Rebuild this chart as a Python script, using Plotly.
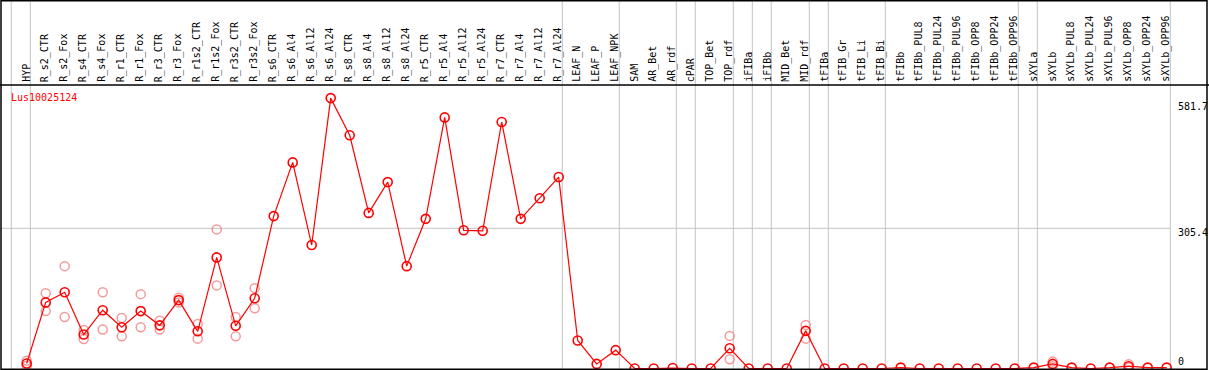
import plotly.graph_objects as go

categories = ["HYP", "R_s2_CTR", "R_s2_Fox", "R_s4_CTR", "R_s4_Fox", "R_r1_CTR", "R_r1_Fox",
              "R_r3_CTR", "R_r3_Fox", "R_r1s2_CTR", "R_r1s2_Fox", "R_r3s2_CTR", "R_r3s2_Fox",
              "R_s6_CTR", "R_s6_Al4", "R_s6_Al12", "R_s6_Al24", "R_s8_CTR", "R_s8_Al4", "R_s8_Al12",
              "R_s8_Al24", "R_r5_CTR", "R_r5_Al4", "R_r5_Al12", "R_r5_Al24", "R_r7_CTR", "R_r7_Al4",
              "R_r7_Al12", "R_r7_Al24", "LEAF_N", "LEAF_P", "LEAF_NPK", "SAM", "AR_Bet", "AR_rdf",
              "cPAR", "TOP_Bet", "TOP_rdf", "iFIBa", "iFIBb", "MID_Bet", "MID_rdf", "tFIBa",
              "tFIB_Gr", "tFIB_Li", "tFIB_Bi", "tFIBb", "tFIBb_PUL8", "tFIBb_PUL24", "tFIBb_PUL96",
              "tFIBb_OPP8", "tFIBb_OPP24", "tFIBb_OPP96", "sXYLa", "sXYLb", "sXYLb_PUL8",
              "sXYLb_PUL24", "sXYLb_PUL96", "sXYLb_OPP8", "sXYLb_OPP24", "sXYLb_OPP96"]

mean_values = [11, 144, 166, 74, 127, 90, 125, 94, 149, 81, 242, 93, 153,
               332, 449, 269, 589, 508, 339, 406, 223, 326, 547, 301, 300, 537, 326, 371, 417,
               61, 10, 40, 0, 0, 1, 0, 0, 44, 0, 0, 0, 82, 0, 0, 0, 0, 2,
               0, 0, 0, 0, 0, 0, 2, 10, 2, 0, 2, 5, 2, 2]

rep1_values = [17, 164, 223, 84, 166, 110, 162, 104, 154, 97, 303, 112, 175,
               None, None, None, None, None, None, None, None, None, None, None, None, None, None, None, None,
               None, None, None, None, None, None, None, None, 71, None, None, None, 95, None, None, None, None, None,
               None, None, None, None, None, None, None, 15, None, None, None, 9, None, None]
rep2_values = [6, 125, 112, 64, 85, 70, 90, 85, 144, 65, 181, 70, 131,
               None, None, None, None, None, None, None, None, None, None, None, None, None, None, None, None,
               None, None, None, None, None, None, None, None, 20, None, None, None, 65, None, None, None, None, None,
               None, None, None, None, None, None, None, 5, None, None, None, 2, None, None]

separator_after = [-1, 0, 28, 31, 34, 35, 37, 38, 39, 41, 42, 45, 52, 53, 60]
tick_values = [0, 305.4, 581.7]
tick_labels = ["0", "305.4", "581.7"]
title_text = "Lus10025124"

W, H = 1209, 370
PX_PER_CAT = 19.0
X0_PX = 26.7
ZERO_PX = 368.5
PX_PER_UNIT = (368.5 - 228.3) / 305.4

xr = [(0 - X0_PX) / PX_PER_CAT, (W - X0_PX) / PX_PER_CAT]
yr = [-(H - ZERO_PX) / PX_PER_UNIT, ZERO_PX / PX_PER_UNIT]

idx = list(range(len(categories)))

fig = go.Figure()
rep_color = "rgba(240,120,120,0.75)"
for reps in (rep1_values, rep2_values):
    fig.add_trace(go.Scatter(x=idx, y=reps, mode="markers",
                             marker=dict(symbol="circle-open", size=9, color=rep_color,
                                         line=dict(width=1.5, color=rep_color)),
                             hoverinfo="skip", showlegend=False))
fig.add_trace(go.Scatter(x=idx, y=mean_values, mode="lines+markers",
                         line=dict(color="#ff0000", width=1.2),
                         marker=dict(symbol="circle-open", size=9, color="#ff0000",
                                     line=dict(width=1.6, color="#ff0000")),
                         showlegend=False))

shapes = []
for s in separator_after:
    shapes.append(dict(type="line", xref="x", yref="paper", x0=s + 0.19, x1=s + 0.19,
                       y0=0, y1=1, line=dict(color="#c4c4c4", width=1), layer="below"))
shapes.append(dict(type="line", xref="x", yref="y", x0=xr[0], x1=60.19,
                   y0=tick_values[1], y1=tick_values[1], line=dict(color="#c4c4c4", width=1), layer="below"))
yh = 1 - 85 / H
shapes.append(dict(type="line", xref="paper", yref="paper", x0=0, x1=1, y0=yh, y1=yh,
                   line=dict(color="black", width=1.5)))
shapes.append(dict(type="rect", xref="paper", yref="paper", x0=1 / W, x1=1207 / W,
                   y0=1 - 369.3 / H, y1=1 - 0.7 / H, line=dict(color="black", width=1.5)))

annotations = []
ylab = 1 - 83 / H
for i, c in enumerate(categories):
    annotations.append(dict(x=i - 0.05, y=ylab, xref="x", yref="paper", text=c, textangle=-90,
                            showarrow=False, xanchor="center", yanchor="bottom", borderpad=0,
                            font=dict(family="DejaVu Sans Mono", size=10, color="black")))
annotations.append(dict(x=9 / W, y=1 - 97 / H, xref="paper", yref="paper", text=title_text,
                        showarrow=False, xanchor="left", yanchor="middle",
                        font=dict(family="DejaVu Sans Mono", size=10, color="#ff0000")))
tick_px = [361.7, 232, 107]
for v, lab, py in zip(tick_values, tick_labels, tick_px):
    annotations.append(dict(x=1176 / W, y=1 - py / H, xref="paper", yref="paper", text=lab,
                            showarrow=False, xanchor="left", yanchor="middle",
                            font=dict(family="DejaVu Sans Mono", size=10, color="black")))

fig.update_layout(width=W, height=H, margin=dict(l=0, r=0, t=0, b=0),
                  paper_bgcolor="white", plot_bgcolor="white",
                  xaxis=dict(range=xr, visible=False, fixedrange=True),
                  yaxis=dict(range=yr, visible=False, fixedrange=True),
                  shapes=shapes, annotations=annotations, showlegend=False)

fig.write_html("out.html", config={"displayModeBar": False},
               post_script="document.body.style.margin='0px';document.body.style.overflow='hidden';")
